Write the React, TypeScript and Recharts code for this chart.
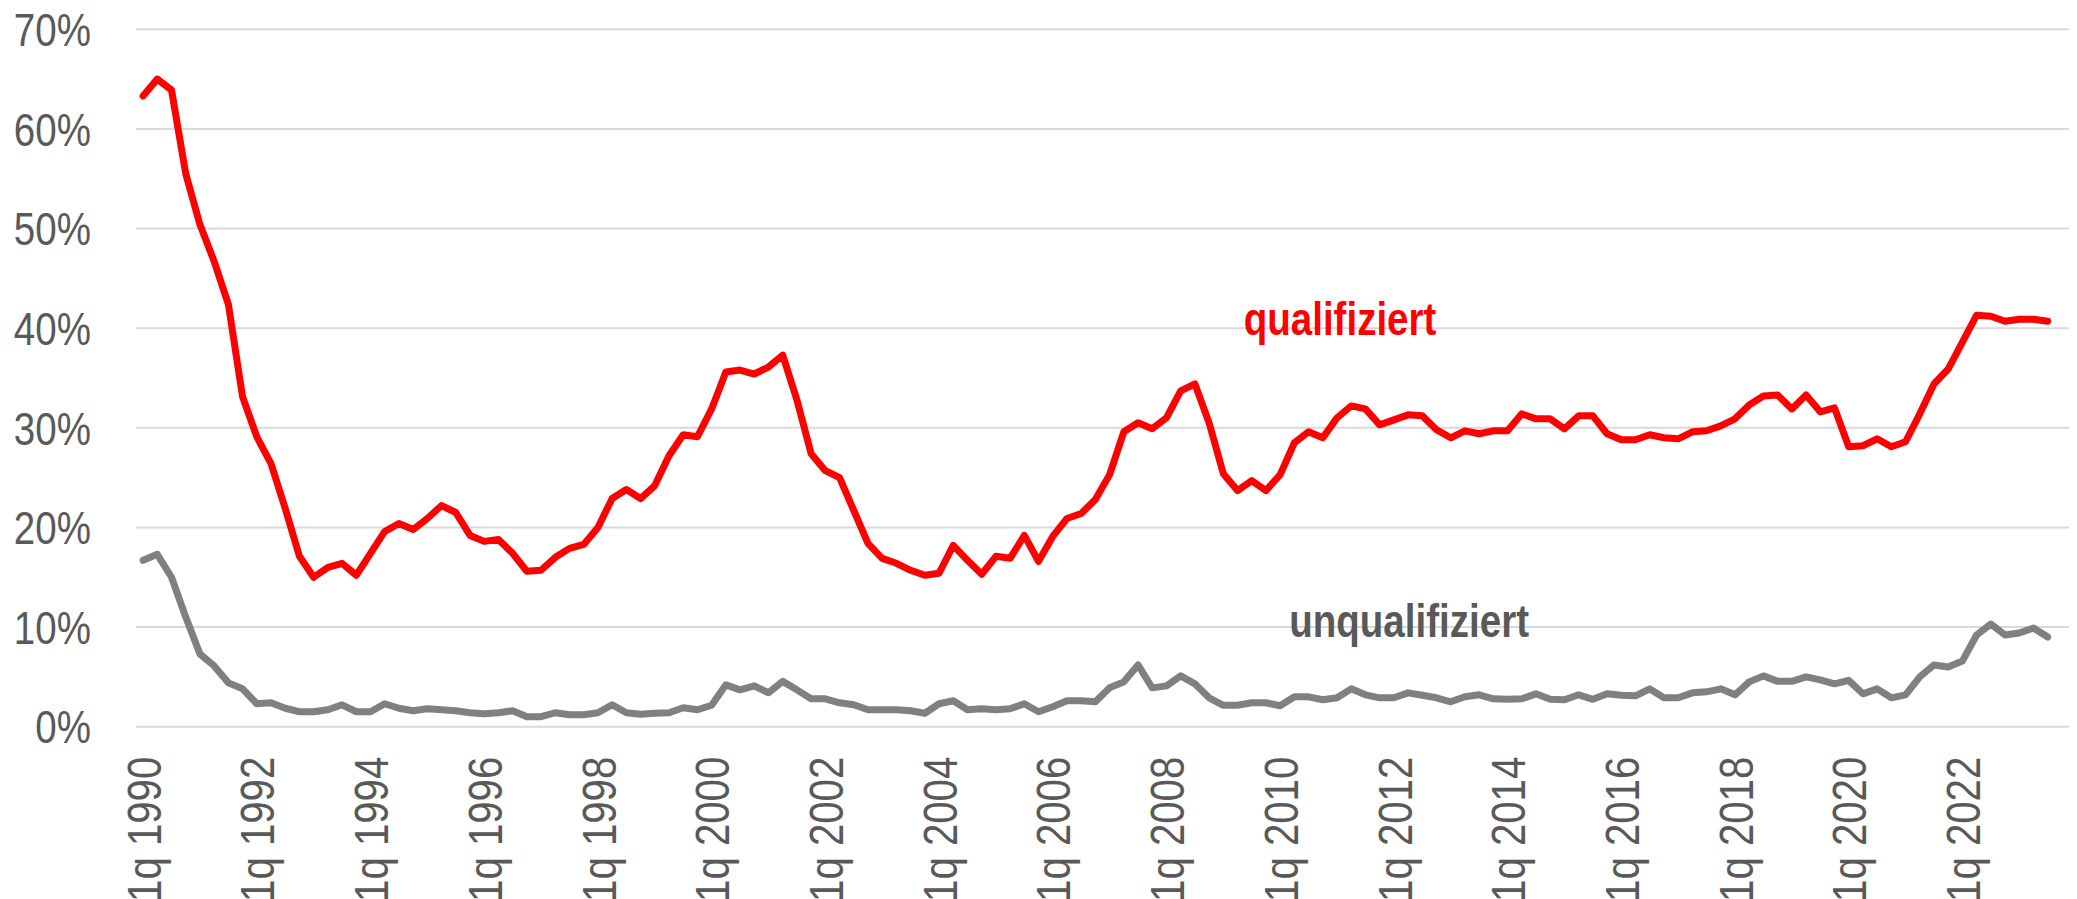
import React from 'react';
import { LineChart, Line, XAxis, YAxis, CartesianGrid, ReferenceDot } from 'recharts';

const years: number[] = [];
for (let y = 1990; y <= 2023; y++) years.push(y);
const quarters = ['1q', '2q', '3q', '4q'];
const categories: string[] = years.flatMap((y) => quarters.map((q) => `${q} ${y}`));

const qualifiziert: (number | null)[] = [
  63.3, 65.0, 63.9, 55.5, 50.4, 46.7, 42.4, 33.1, 29.1, 26.4, 21.9, 17.1, 15.0, 16.0, 16.4, 15.2,
  17.4, 19.6, 20.4, 19.8, 20.9, 22.2, 21.5, 19.2, 18.6, 18.8, 17.4, 15.6, 15.7, 17.0, 17.9, 18.3,
  20.0, 22.9, 23.8, 22.9, 24.2, 27.2, 29.3, 29.1, 31.9, 35.6, 35.8, 35.4, 36.1, 37.3, 32.8, 27.4,
  25.7, 25.0, 21.7, 18.4, 16.9, 16.4, 15.7, 15.2, 15.4, 18.2, 16.7, 15.3, 17.1, 16.9, 19.2, 16.6,
  19.1, 20.9, 21.4, 22.8, 25.3, 29.6, 30.5, 29.9, 31.0, 33.7, 34.4, 30.5, 25.4, 23.7, 24.7, 23.7,
  25.3, 28.5, 29.6, 29.0, 31.0, 32.2, 31.9, 30.3, 30.8, 31.3, 31.2, 29.8, 29.0, 29.7, 29.4, 29.7,
  29.7, 31.4, 30.9, 30.9, 29.9, 31.2, 31.2, 29.4, 28.8, 28.8, 29.3, 29.0, 28.9, 29.6, 29.7, 30.2,
  30.9, 32.3, 33.2, 33.3, 31.9, 33.3, 31.6, 32.0, 28.1, 28.2, 28.9, 28.1, 28.6, 31.4, 34.4, 35.9,
  38.6, 41.3, 41.2, 40.7, 40.9, 40.9, 40.7, null,
];

const unqualifiziert: (number | null)[] = [
  16.7, 17.3, 15.0, 11.0, 7.3, 6.1, 4.4, 3.8, 2.3, 2.4, 1.85, 1.5, 1.5, 1.7, 2.2, 1.5,
  1.5, 2.3, 1.85, 1.6, 1.8, 1.7, 1.6, 1.4, 1.3, 1.4, 1.6, 1.0, 1.0, 1.4, 1.2, 1.2,
  1.4, 2.2, 1.4, 1.25, 1.35, 1.4, 1.9, 1.7, 2.15, 4.2, 3.7, 4.1, 3.4, 4.55, 3.7, 2.8,
  2.8, 2.4, 2.2, 1.7, 1.7, 1.7, 1.6, 1.35, 2.3, 2.6, 1.7, 1.8, 1.7, 1.8, 2.3, 1.5,
  2.0, 2.6, 2.6, 2.5, 3.9, 4.5, 6.2, 3.9, 4.1, 5.1, 4.3, 2.9, 2.15, 2.15, 2.4, 2.4,
  2.1, 3.0, 3.0, 2.7, 2.9, 3.8, 3.2, 2.9, 2.9, 3.4, 3.15, 2.9, 2.5, 3.0, 3.2, 2.8,
  2.75, 2.8, 3.3, 2.75, 2.7, 3.2, 2.75, 3.3, 3.15, 3.1, 3.8, 2.9, 2.9, 3.4, 3.5, 3.8,
  3.2, 4.5, 5.1, 4.55, 4.55, 5.0, 4.7, 4.3, 4.65, 3.3, 3.8, 2.9, 3.2, 5.0, 6.2, 6.0,
  6.6, 9.2, 10.3, 9.2, 9.4, 9.9, 9.0, null,
];

const yTicks = [0, 10, 20, 30, 40, 50, 60, 70];

const data = categories.map((c, i) => ({
  cat: c,
  qualifiziert: qualifiziert[i] ?? null,
  unqualifiziert: unqualifiziert[i] ?? null,
}));

const FONT = "'Liberation Sans', Arial, sans-serif";
const NARROW_SCALE = 0.82;
const TEXT_GREY = '#595959';

const XTick = (props: any) => {
  const { x, y, payload } = props;
  return (
    <text
      transform={`translate(${x}, ${y}) rotate(-90) scale(${NARROW_SCALE}, 1)`}
      x={0}
      y={0}
      textAnchor="end"
      dy="0.36em"
      fill={TEXT_GREY}
      fontSize={49}
      fontFamily={FONT}
    >
      {payload.value}
    </text>
  );
};

const YTick = (props: any) => {
  const { x, y, payload } = props;
  return (
    <text
      transform={`translate(${x}, ${y}) scale(${NARROW_SCALE}, 1)`}
      x={0}
      y={0}
      dy="0.355em"
      textAnchor="end"
      fill={TEXT_GREY}
      fontSize={47}
      fontFamily={FONT}
    >
      {`${payload.value}%`}
    </text>
  );
};

const Anno = (props: any) => {
  const { viewBox, text, color, dx } = props;
  if (!viewBox) return null;
  const cx = viewBox.x + (viewBox.width || 0) / 2 + (dx || 0);
  const cy = viewBox.y + (viewBox.height || 0) / 2;
  return (
    <text
      transform={`translate(${cx}, ${cy}) scale(${NARROW_SCALE}, 1)`}
      x={0}
      y={0}
      textAnchor="middle"
      fill={color}
      fontSize={47}
      fontWeight="bold"
      fontFamily={FONT}
    >
      {text}
    </text>
  );
};

export default function App() {
  return (
    <div style={{ position: 'absolute', left: 0, top: 0, width: 2077, height: 899, background: '#fff' }}>
      <LineChart width={2077} height={899} data={data} margin={{ top: 29.3, right: 8, left: 0, bottom: 0 }}>
        <CartesianGrid vertical={false} stroke="#d9d9d9" strokeWidth={2} />
        <XAxis
          dataKey="cat"
          interval={7}
          height={172.3}
          axisLine={false}
          tickLine={false}
          tickSize={0}
          tickMargin={30}
          padding={{ left: 7.1, right: 7.1 }}
          tick={<XTick />}
        />
        <YAxis
          domain={[0, 70]}
          ticks={yTicks}
          width={136}
          axisLine={false}
          tickLine={false}
          tickSize={0}
          tickMargin={45}
          tick={<YTick />}
        />
        <Line
          dataKey="unqualifiziert"
          stroke="#808080"
          strokeWidth={7}
          dot={false}
          activeDot={false}
          strokeLinejoin="round"
          strokeLinecap="round"
          isAnimationActive={false}
        />
        <Line
          dataKey="qualifiziert"
          stroke="#ff0000"
          strokeWidth={7}
          dot={false}
          activeDot={false}
          strokeLinejoin="round"
          strokeLinecap="round"
          isAnimationActive={false}
        />
        <ReferenceDot
          x={categories[84]}
          y={39.3}
          r={1}
          fill="none"
          stroke="none"
          label={<Anno text="qualifiziert" color="#ff0000" dx={3} />}
        />
        <ReferenceDot
          x={categories[89]}
          y={9.0}
          r={1}
          fill="none"
          stroke="none"
          label={<Anno text="unqualifiziert" color={TEXT_GREY} dx={1} />}
        />
      </LineChart>
    </div>
  );
}
